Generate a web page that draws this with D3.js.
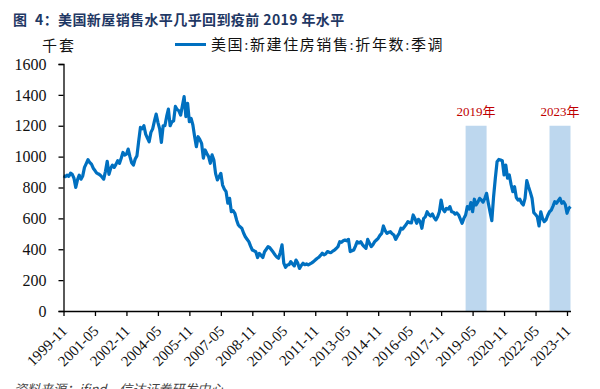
<!DOCTYPE html>
<html><head><meta charset="utf-8">
<script src="https://cdn.jsdelivr.net/npm/d3@7"></script>
<style>
body{margin:0;background:#fff;}
svg{display:block;}
</style></head>
<body>
<svg id="c" width="600" height="389"></svg>
<script>
// ---- data ----
const startYear = 1999, startMonth = 11;
const sales = [
876,870,
880,872,893,885,860,800,850,880,854,875,930,955,
980,962,951,925,910,893,888,880,868,854,905,970,
885,925,945,930,950,973,956,990,1027,1010,1016,1049,
1000,960,945,985,1005,1100,1189,1180,1200,1146,1120,1096,
1157,1180,1230,1276,1222,1180,1092,1200,1200,1260,1308,1200,
1225,1232,1325,1305,1297,1269,1330,1389,1259,1345,1226,1248,
1205,1130,1064,1129,1110,1086,990,1043,1020,1000,957,1011,
978,890,849,870,892,816,790,773,698,730,643,650,
633,590,557,545,536,505,481,465,449,420,395,390,
384,346,373,360,346,384,400,417,410,395,380,363,
350,341,380,428,310,283,298,300,320,305,292,330,
310,276,295,309,300,305,298,305,312,320,330,340,
348,360,374,363,370,385,380,378,388,395,405,417,
449,445,455,460,455,464,385,390,395,420,449,440,
449,430,417,406,464,440,417,430,449,460,471,490,
503,551,520,503,510,514,500,492,464,485,503,536,
530,546,560,579,572,570,622,600,568,594,580,536,
600,610,643,625,615,628,605,590,610,643,719,660,
643,665,660,676,643,640,628,635,622,595,568,600,
622,676,660,702,643,724,687,705,730,719,705,730,
762,698,640,585,740,860,967,982,978,973,881,945,
860,881,820,773,805,735,719,724,700,687,730,844,
805,770,730,637,625,611,551,643,600,579,590,620,
643,654,680,708,698,715,730,698,708,690,633,665,
676
];
const months = sales.map((v,i)=>{
  const t = (startMonth-1)+i;
  const y = startYear + Math.floor(t/12), m = t%12+1;
  return y + "-" + String(m).padStart(2,"0");
});
const tickLabels = ["1999-11","2001-05","2002-11","2004-05","2005-11","2007-05","2008-11","2010-05","2011-11","2013-05","2014-11","2016-05","2017-11","2019-05","2020-11","2022-05","2023-11"];
const yTicks = [0,200,400,600,800,1000,1200,1400,1600];
const shadeLabels = ["2019年","2023年"];
const shadeStart = ["2019-01","2023-01"];
const shadeEnd = ["2020-01","2024-01"];
const shadeTop = 1200;
const titlePrefix = "图";
const titleText = "4：美国新屋销售水平几乎回到疫前 2019 年水平";
const seriesName = "美国:新建住房销售:折年数:季调";
const unitText = "千套";
const sourceText = "资料来源：ifind，信达证券研发中心";

// ---- drawing ----
const svg = d3.select("#c");
const x = d3.scalePoint().domain(months).range([63.5, 570.5]);
const y = d3.scaleLinear().domain([0,1600]).range([311, 64]);
const serif = "'Liberation Serif', serif";
const cjk = "'Noto Sans CJK SC', sans-serif";
const cjkSerif = "'Liberation Serif', 'Noto Sans CJK SC', serif";

// title
const title = svg.append("text").attr("y",25)
  .style("font-family",cjk).style("font-weight","bold").style("font-size","14px")
  .style("letter-spacing","0.4px").attr("fill","#1F3864");
title.append("tspan").attr("x",13).text(titlePrefix);
title.append("tspan").attr("x",35).text(titleText);

// unit
svg.append("text").attr("x",42).attr("y",51)
  .style("font-family",cjk).style("font-size","15px").style("letter-spacing","2px")
  .attr("fill","#111").text(unitText);

// legend
svg.append("line").attr("x1",175).attr("x2",206).attr("y1",44.5).attr("y2",44.5)
  .attr("stroke","#0070C0").attr("stroke-width",3);
svg.append("text").attr("x",211).attr("y",50)
  .style("font-family",cjkSerif).style("font-size","15px").style("letter-spacing","1.6px")
  .attr("fill","#111").text(seriesName);

// shaded periods
const shades = svg.append("g");
shadeStart.forEach((s,i)=>{
  const x0 = x(s), x1 = x(shadeEnd[i]);
  shades.append("rect").attr("x",x0).attr("y",y(shadeTop))
    .attr("width",x1-x0).attr("height",y(0)-y(shadeTop)).attr("fill","#BDD7EE");
  svg.append("text").attr("x",(x0+x1)/2).attr("y",116).attr("text-anchor","middle")
    .style("font-family",cjkSerif).style("font-size","13px").attr("fill","#C00000").text(shadeLabels[i]);
});

// line
const line = d3.line().x((d,i)=>x(months[i])).y(d=>y(d));
svg.append("path").datum(sales).attr("d",line).attr("fill","none")
  .attr("stroke","#0070C0").attr("stroke-width",3.2).attr("stroke-linejoin","round");

// y axis
const yAxis = svg.append("g").attr("transform","translate(63.5,0)")
  .call(d3.axisLeft(y).tickValues(yTicks).tickFormat(d3.format("d")).tickSize(5).tickPadding(12));
yAxis.attr("font-family",null).attr("font-size",null);
yAxis.select(".domain").attr("stroke","#000").attr("stroke-width",1.3);
yAxis.selectAll(".tick line").attr("stroke","#000").attr("stroke-width",1.3);
yAxis.selectAll("text").style("font-family",serif).style("font-size","16px").attr("fill","#111");

// x axis
const xAxis = svg.append("g").attr("transform","translate(0,311)")
  .call(d3.axisBottom(x).tickValues(tickLabels).tickSize(5).tickSizeOuter(0));
xAxis.attr("font-family",null).attr("font-size",null);
xAxis.select(".domain").attr("stroke","#000").attr("stroke-width",1.3);
xAxis.selectAll(".tick line").attr("stroke","#000").attr("stroke-width",1.3);
xAxis.selectAll("text").style("font-family",serif).style("font-size","15px").attr("fill","#111")
  .attr("text-anchor","end").attr("dy",null).attr("y",0)
  .attr("transform","translate(4,21) rotate(-45)");

// source
svg.append("text").attr("x",14).attr("y",394)
  .style("font-family",cjk).style("font-size","13px").style("font-style","italic")
  .attr("fill","#444").text(sourceText);
</script>
</body></html>
